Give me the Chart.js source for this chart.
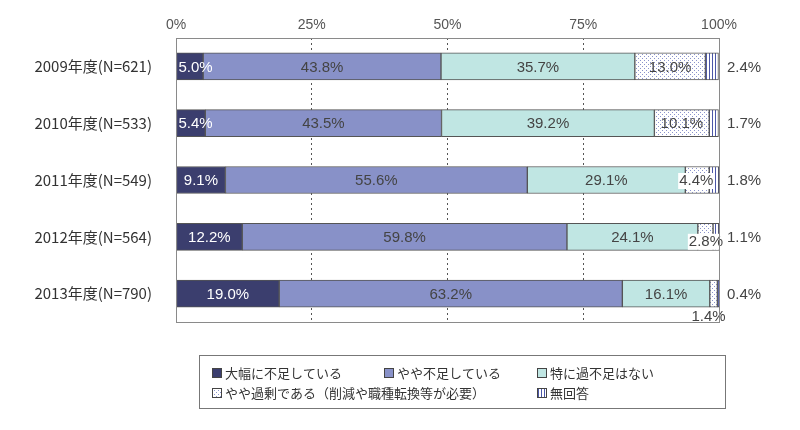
<!DOCTYPE html>
<html>
<head>
<meta charset="utf-8">
<script src="https://cdn.jsdelivr.net/npm/chart.js@4"></script>
<style>
  html, body { margin: 0; background: #fff; }
  #wrap { width: 800px; height: 430px; }
</style>
</head>
<body>
<div id="wrap"><canvas id="chart"></canvas></div>
<script>
const years = ["2009年度(N=621)", "2010年度(N=533)", "2011年度(N=549)", "2012年度(N=564)", "2013年度(N=790)"];
const seriesNames = ["大幅に不足している", "やや不足している", "特に過不足はない", "やや過剰である（削減や職種転換等が必要）", "無回答"];
const severeShortage = [5.0, 5.4, 9.1, 12.2, 19.0];
const slightShortage = [43.8, 43.5, 55.6, 59.8, 63.2];
const noIssue = [35.7, 39.2, 29.1, 24.1, 16.1];
const slightSurplus = [13.0, 10.1, 4.4, 2.8, 1.4];
const noAnswer = [2.4, 1.7, 1.8, 1.1, 0.4];
const xTicks = [0, 25, 50, 75, 100];

const FONT = "'Liberation Sans', 'Noto Sans CJK JP', sans-serif";
const JP_FONT = "'Noto Sans CJK JP', sans-serif";

// patterns for the last two series
function makePattern(kind) {
  const c = document.createElement("canvas");
  const ctx = c.getContext("2d");
  if (kind === "dots") {
    c.width = 4; c.height = 4;
    ctx.fillStyle = "#fff";
    ctx.fillRect(0, 0, 4, 4);
    ctx.fillStyle = "#8a93cc";
    ctx.fillRect(0, 0, 1, 1);
    ctx.fillRect(2, 2, 1, 1);
  } else {
    c.width = 3; c.height = 3;
    ctx.fillStyle = "#fff";
    ctx.fillRect(0, 0, 3, 3);
    ctx.fillStyle = "#4c57a8";
    ctx.fillRect(1, 0, 1, 3);
  }
  return ctx.createPattern(c, "repeat");
}

const fills = ["#3b3e6e", "#8891c8", "#c0e6e3", makePattern("dots"), makePattern("stripes")];
const values = [severeShortage, slightShortage, noIssue, slightSurplus, noAnswer];

// label tweaks where segments are too narrow (key: dataset-row)
const labelShift = {
  "0-0": { align: "left", dx: 2, dy: 0, bg: false },
  "0-1": { align: "left", dx: 2, dy: 0, bg: false },
  "3-2": { align: "center", dx: -1, dy: 0, bg: true },
  "3-3": { align: "right", dx: 10, dy: 4, bg: true },
  "3-4": { align: "center", dx: -5, dy: 22, bg: false }
};

const labelPlugin = {
  id: "segmentLabels",
  afterDatasetsDraw(chart) {
    const ctx = chart.ctx;
    const area = chart.chartArea;
    ctx.save();
    ctx.font = "15px " + FONT;
    ctx.textBaseline = "middle";
    chart.data.datasets.forEach((ds, i) => {
      const meta = chart.getDatasetMeta(i);
      meta.data.forEach((bar, j) => {
        const txt = ds.data[j].toFixed(1) + "%";
        if (i === 4) {
          ctx.textAlign = "left";
          ctx.fillStyle = "#444";
          ctx.fillText(txt, area.right + 8, bar.y + 1);
          return;
        }
        const s = labelShift[i + "-" + j];
        let x = (bar.x + bar.base) / 2;
        let y = bar.y + 1;
        ctx.textAlign = "center";
        if (s) {
          ctx.textAlign = s.align;
          if (s.align === "right") x = bar.x + s.dx;
          else if (s.align === "left") x = bar.base + s.dx;
          else x += s.dx;
          y += s.dy;
          if (s.bg) {
            const w = ctx.measureText(txt).width;
            const left = s.align === "right" ? x - w : x - w / 2;
            ctx.fillStyle = "#fff";
            ctx.fillRect(left - 1, y - 8, w + 2, 16);
          }
        }
        ctx.fillStyle = i === 0 ? "#fff" : "#444";
        ctx.fillText(txt, x, y);
      });
    });
    ctx.restore();
  }
};

const framePlugin = {
  id: "frameAndLegend",
  afterDraw(chart) {
    const ctx = chart.ctx;
    const a = chart.chartArea;
    ctx.save();
    ctx.strokeStyle = "#8a8a8a";
    ctx.lineWidth = 1;
    ctx.strokeRect(Math.round(a.left) + 0.5, Math.round(a.top) + 0.5, Math.round(a.right - a.left), Math.round(a.bottom - a.top));

    // legend box
    ctx.strokeStyle = "#777";
    ctx.strokeRect(199.5, 355.5, 526, 53);
    const items = [
      { x: 212, y: 373 }, { x: 384, y: 373 }, { x: 537, y: 373 },
      { x: 212, y: 393 }, { x: 537, y: 393 }
    ];
    ctx.font = "13px " + JP_FONT;
    ctx.textBaseline = "middle";
    ctx.textAlign = "left";
    items.forEach((p, i) => {
      ctx.fillStyle = fills[i];
      ctx.fillRect(p.x, p.y - 5, 10, 10);
      ctx.strokeStyle = "#444";
      ctx.strokeRect(p.x + 0.5, p.y - 4.5, 9, 9);
      ctx.fillStyle = "#333";
      ctx.fillText(seriesNames[i], p.x + 13, p.y);
    });
    ctx.restore();
  }
};

new Chart(document.getElementById("chart"), {
  type: "bar",
  data: {
    labels: years,
    datasets: values.map((v, i) => ({
      label: seriesNames[i],
      data: v,
      backgroundColor: fills[i],
      borderColor: "#555",
      borderWidth: 1,
      borderSkipped: false,
      barThickness: 27
    }))
  },
  options: {
    indexAxis: "y",
    responsive: true,
    maintainAspectRatio: false,
    animation: false,
    layout: { padding: { top: 8, right: 81, bottom: 108, left: 0 } },
    plugins: {
      legend: { display: false },
      tooltip: { enabled: false }
    },
    scales: {
      x: {
        position: "top",
        stacked: true,
        min: 0,
        max: 100,
        afterBuildTicks(scale) { scale.ticks = xTicks.map(v => ({ value: v })); },
        ticks: {
          callback: v => v + "%",
          color: "#555",
          font: { size: 14, family: FONT },
          padding: 4
        },
        grid: { color: "#555", lineWidth: 1, drawTicks: false },
        border: { display: false, dash: [2, 3] },
        afterFit(scale) { scale.height = 30; }
      },
      y: {
        stacked: true,
        ticks: {
          color: "#333",
          font: { size: 15, family: JP_FONT },
          padding: 16
        },
        grid: { display: false },
        border: { display: false },
        afterFit(scale) { scale.width = 176; }
      }
    }
  },
  plugins: [labelPlugin, framePlugin]
});
</script>
</body>
</html>
